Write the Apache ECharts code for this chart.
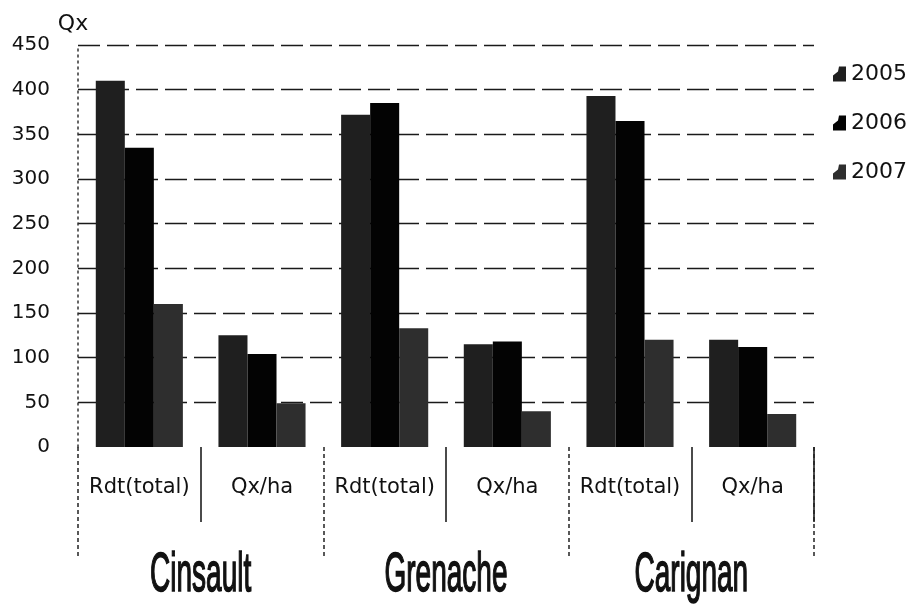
<!DOCTYPE html>
<html>
<head>
<meta charset="utf-8">
<script src="https://cdn.jsdelivr.net/npm/echarts@6/dist/echarts.min.js"></script>
<style>
  html, body { margin: 0; padding: 0; background: #ffffff; }
  #chart { width: 908px; height: 611px; }
</style>
</head>
<body>
<div id="chart"></div>
<script>
// Yield per grape variety: total yield and yield per hectare, three vintages
const years = ['2005', '2006', '2007'];
const varieties = ['Cinsault', 'Grenache', 'Carignan'];
const measures = ['Rdt(total)', 'Qx/ha'];
const yTicks = [0, 50, 100, 150, 200, 250, 300, 350, 400, 450];

// order: Cinsault Rdt, Cinsault Qx/ha, Grenache Rdt, Grenache Qx/ha, Carignan Rdt, Carignan Qx/ha
const values2005 = [410, 125, 372, 115, 393, 120];
const values2006 = [335, 104, 385, 118, 365, 112];
const values2007 = [160, 49, 133, 40, 120, 37];

const categories = [];
varieties.forEach(function () { measures.forEach(function (m) { categories.push(m); }); });

const seriesValues = [values2005, values2006, values2007];
const barColors = ['#1f1f1f', '#030303', '#2e2e2e'];
const textFont = '"DejaVu Sans", Verdana, sans-serif';

const chart = echarts.init(document.getElementById('chart'), null, { renderer: 'canvas' });

// first grid line (zero) stays hidden, as on a 3D floor
const gridColors = yTicks.map(function (t, i) { return i === 0 ? 'rgba(0,0,0,0)' : '#1a1a1a'; });

chart.setOption({
  animation: false,
  backgroundColor: '#ffffff',
  grid: { left: 78, right: 94, top: 45, bottom: 164, containLabel: false, outerBoundsMode: 'none' },
  legend: {
    orient: 'vertical',
    left: 828,
    top: 58,
    itemGap: 27,
    itemWidth: 13,
    itemHeight: 15,
    icon: 'path://M0,15L0,9L5,5L6,0L13,0L13,15Z',
    textStyle: { fontFamily: textFont, fontSize: 22, color: '#111' },
    data: years
  },
  xAxis: [
    {
      type: 'category',
      position: 'bottom',
      data: categories,
      axisLine: { show: false },
      axisTick: {
        show: true,
        interval: function (index) { return index % 2 === 1; },
        length: 75,
        lineStyle: { color: '#111', width: 1.5 }
      },
      axisLabel: { interval: 0, margin: 30, fontFamily: textFont, fontSize: 21, color: '#111' },
      splitLine: { show: false }
    },
    {
      type: 'category',
      position: 'bottom',
      data: varieties,
      axisLine: { show: false },
      axisTick: {
        show: true,
        interval: 0,
        length: 112,
        lineStyle: { color: '#222', width: 1.5, type: [4, 3] }
      },
      axisLabel: { show: false },
      splitLine: { show: false }
    }
  ],
  yAxis: {
    type: 'value',
    min: 0,
    max: 450,
    interval: 50,
    name: 'Qx',
    nameLocation: 'end',
    nameGap: 10,
    nameTextStyle: { fontFamily: textFont, fontSize: 22, color: '#111', align: 'center', padding: [0, 10, 0, 0] },
    axisLine: { show: true, lineStyle: { color: '#333', width: 1.5, type: [2, 4] } },
    axisTick: { show: false },
    axisLabel: { margin: 28, fontFamily: textFont, fontSize: 20, color: '#111' },
    splitLine: { show: true, lineStyle: { color: gridColors, width: 1.3, type: [22, 7] } }
  },
  series: years.map(function (y, i) {
    return {
      name: y,
      type: 'bar',
      xAxisIndex: 0,
      data: seriesValues[i],
      barGap: '0%',
      barCategoryGap: '29%',
      itemStyle: { color: barColors[i] }
    };
  })
});

// large condensed variety names under each pair of columns, centred on the variety axis
const groupLabels = varieties.map(function (v, i) {
  const cx = chart.convertToPixel({ xAxisIndex: 1 }, i);
  return {
    type: 'text',
    x: cx,
    y: 576,
    scaleY: 2.0,
    style: {
      text: v,
      x: 0,
      y: 0,
      font: '28px "Liberation Sans", Arial, sans-serif',
      fill: '#111',
      stroke: '#111',
      lineWidth: 0.8,
      textAlign: 'center',
      textVerticalAlign: 'middle'
    }
  };
});
chart.setOption({ graphic: groupLabels });
</script>
</body>
</html>
